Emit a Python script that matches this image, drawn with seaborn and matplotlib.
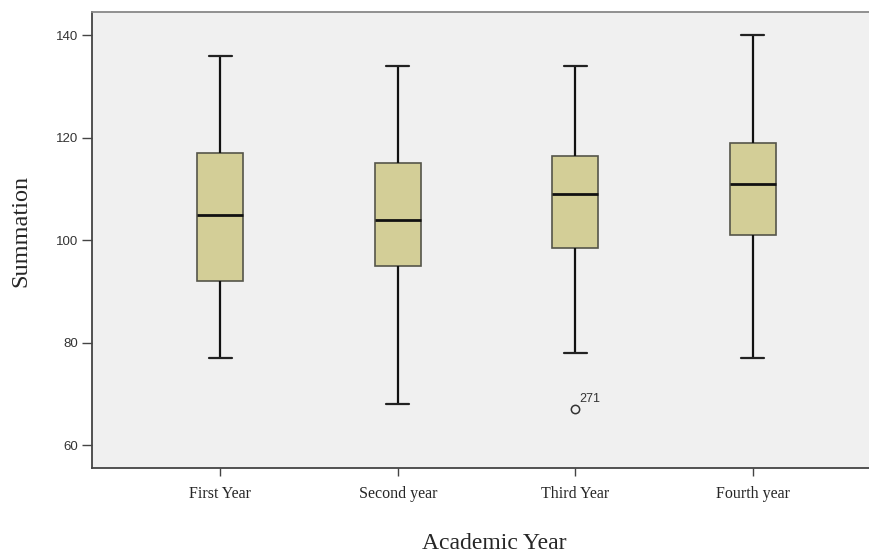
import pandas as pd
import matplotlib.pyplot as plt
import seaborn as sns

# Valores (mínimo, Q1, mediana, Q3, máximo por ano)
anos = ['First Year', 'Second year', 'Third Year', 'Fourth year']
first_year = [77, 92, 105, 117, 136]
second_year = [68, 95, 104, 115, 134]
# terceiro ano tem um outlier (caso 271) em 67
third_year = [67, 78, 98.5, 98.5, 109, 116.5, 116.5, 134, 134]
fourth_year = [77, 101, 111, 119, 140]
outlier_id = '271'

df = pd.DataFrame({
    'Academic Year': [anos[0]] * len(first_year) + [anos[1]] * len(second_year)
                     + [anos[2]] * len(third_year) + [anos[3]] * len(fourth_year),
    'Summation': first_year + second_year + third_year + fourth_year,
})

sns.set_style("ticks")

fig = plt.figure(figsize=(8.69, 5.53), dpi=100)
ax = fig.add_axes([0.106, 0.154, 0.894, 0.824])
ax.set_facecolor('#f0f0f0')

sns.boxplot(data=df, x='Academic Year', y='Summation', order=anos, ax=ax,
            width=0.26, color='#d3ce97', saturation=1, linecolor='#555555',
            boxprops=dict(edgecolor='#55554a', linewidth=1.2),
            whiskerprops=dict(color='#111111', linewidth=1.6),
            capprops=dict(color='#222222', linewidth=1.6),
            medianprops=dict(color='#111111', linewidth=2),
            flierprops=dict(marker='o', markersize=6, markerfacecolor='none',
                            markeredgecolor='#333333', markeredgewidth=1.1))

ax.annotate(outlier_id, xy=(2, min(third_year)), xytext=(3, 5),
            textcoords='offset points', fontsize=9, family='Liberation Sans',
            color='#333333')

ax.set_ylim(55.6, 144.5)
ax.set_xlim(-0.723, 3.655)
ax.set_yticks([60, 80, 100, 120, 140])

for s in ['left', 'bottom']:
    ax.spines[s].set_color('#444444')
    ax.spines[s].set_linewidth(1.3)
ax.spines['top'].set_color('#888888')
ax.spines['top'].set_linewidth(1.3)
ax.spines['right'].set_visible(False)

ax.tick_params(axis='y', length=7, width=1, color='#444444', labelsize=9.5,
               labelcolor='#333333', pad=3)
ax.tick_params(axis='x', length=6, width=1, color='#444444', labelsize=11.5,
               pad=7)
for lab in ax.get_yticklabels():
    lab.set_family('Liberation Sans')
for lab in ax.get_xticklabels():
    lab.set_family('Liberation Serif')

ax.set_xlabel('Academic Year', family='Liberation Serif', fontsize=17)
ax.set_ylabel('Summation', family='Liberation Serif', fontsize=17.5)
ax.xaxis.set_label_coords(0.517, -0.142)
ax.yaxis.set_label_coords(-0.078, 0.52)

fig.savefig('out.png', dpi=100)
